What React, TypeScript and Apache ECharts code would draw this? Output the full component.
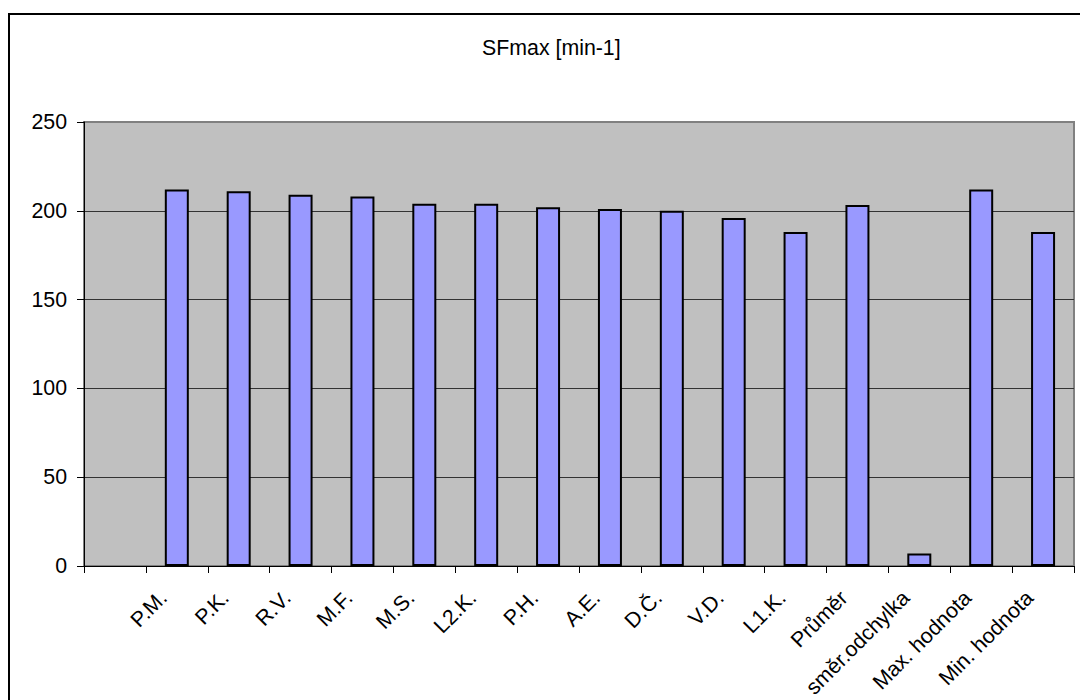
import React, { useEffect, useRef } from "react";
import * as echarts from "echarts";

// Categories along the x axis (first slot intentionally blank)
const categories: string[] = [
  "",
  "P.M.",
  "P.K.",
  "R.V.",
  "M.F.",
  "M.S.",
  "L2.K.",
  "P.H.",
  "A.E.",
  "D.Č.",
  "V.D.",
  "L1.K.",
  "Průměr",
  "směr.odchylka",
  "Max. hodnota",
  "Min. hodnota",
];

// SFmax values [min-1]
const sfmax: (number | null)[] = [
  null, 212, 211, 209, 208, 204, 204, 202, 201, 200, 196, 188, 203.2, 7.0, 212, 188,
];

const title = "SFmax [min-1]";
const yMin = 0;
const yMax = 250;
const yStep = 50;

const FONT = "'Liberation Sans', Arial, sans-serif";
const FS = 21.33;

export default function App() {
  const ref = useRef<HTMLDivElement>(null);

  useEffect(() => {
    document.body.style.margin = "0";
    if (!ref.current) return;
    const chart = echarts.init(ref.current, undefined, { renderer: "svg" });
    chart.setOption({
      animation: false,
      backgroundColor: "#ffffff",
      textStyle: { fontFamily: FONT },
      title: {
        text: title,
        left: 482,
        top: 37,
        padding: 0,
        textStyle: { fontFamily: FONT, fontSize: FS, fontWeight: "normal", color: "#000" },
      },
      graphic: [
        {
          type: "rect",
          shape: { x: 9, y: 14, width: 1100, height: 720 },
          style: { fill: "none", stroke: "#000", lineWidth: 2 },
          z: -1,
        },
      ],
      grid: {
        left: 84,
        top: 122,
        right: 6,
        bottom: 134,
        outerBoundsMode: "none",
        containLabel: false,
        show: true,
        backgroundColor: "#C0C0C0",
        borderColor: "#808080",
        borderWidth: 2,
      },
      xAxis: {
        type: "category",
        data: categories,
        boundaryGap: true,
        axisLine: { show: true, lineStyle: { color: "#000", width: 1 } },
        axisTick: { show: true, length: 7, lineStyle: { color: "#000" } },
        axisLabel: {
          interval: 0,
          rotate: 45,
          margin: 15,
          padding: [0, 19, 0, 0],
          fontSize: FS,
          color: "#000",
          fontFamily: FONT,
        },
      },
      yAxis: {
        type: "value",
        min: yMin,
        max: yMax,
        interval: yStep,
        axisLine: { show: true, lineStyle: { color: "#000", width: 1 } },
        axisTick: { show: true, length: 7, lineStyle: { color: "#000" } },
        axisLabel: { margin: 17, fontSize: FS, color: "#000", fontFamily: FONT },
        splitLine: {
          show: true,
          lineStyle: {
            color: ["#333", "#333", "#333", "#333", "#333", "#808080"],
            width: 1,
          },
        },
      },
      series: [
        {
          type: "bar",
          data: sfmax,
          barWidth: 24,
          itemStyle: { color: "#9999FF", borderColor: "#000", borderWidth: 2 },
        },
      ],
    });
    return () => chart.dispose();
  }, []);

  return <div ref={ref} style={{ width: 1080, height: 700 }} />;
}
